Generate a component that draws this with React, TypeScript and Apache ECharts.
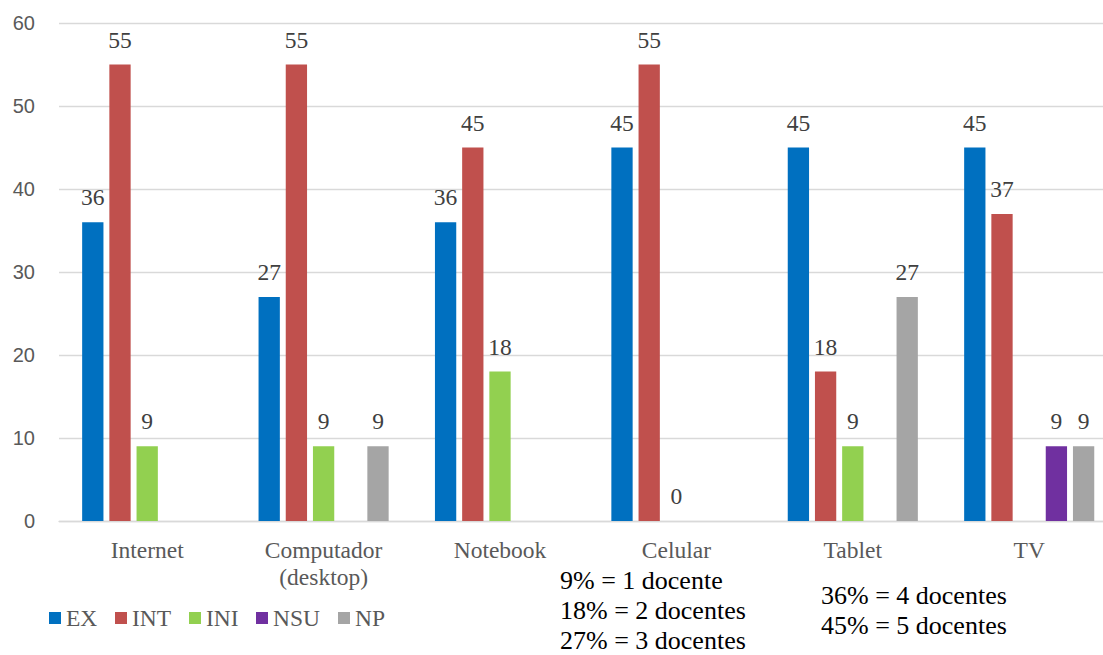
import React, { useEffect, useRef } from "react";
import * as echarts from "echarts";

// Device categories (x axis)
const categories = ["Internet", "Computador\n(desktop)", "Notebook", "Celular", "Tablet", "TV"];

// Percentages per level; null = no bar for that device
const seriesNames = ["EX", "INT", "INI", "NSU", "NP"];
const exValues = [36, 27, 36, 45, 45, 45];
const intValues = [55, 55, 45, 55, 18, 37];
const iniValues = [9, 9, 18, 0, 9, null];
const nsuValues = [null, null, null, null, null, 9];
const npValues = [null, 9, null, null, 27, 9];
const seriesColors = ["#0070C0", "#C0504D", "#92D050", "#7030A0", "#A5A5A5"];

// Y axis range
const yMin = 0;
const yMax = 60;
const yStep = 10;

// Conversion notes shown under the chart
const notesLeft = ["9% = 1 docente", "18% = 2 docentes", "27% = 3 docentes"];
const notesRight = ["36% = 4 docentes", "45% = 5 docentes"];

// Horizontal start of each legend swatch
const legendX = [49, 115, 189, 256, 338];

const SERIF = "Liberation Serif";

export default function App() {
  const ref = useRef<HTMLDivElement | null>(null);

  useEffect(() => {
    if (!ref.current) return;
    const chart = echarts.init(ref.current, null, { renderer: "svg" });
    const allValues = [exValues, intValues, iniValues, nsuValues, npValues];

    const series = seriesNames.map((name, i) => ({
      name,
      type: "bar",
      data: allValues[i],
      barWidth: 21.3,
      barGap: "27.7%",
      itemStyle: { color: seriesColors[i] },
      label: {
        show: true,
        position: "top",
        distance: 13,
        formatter: (p: any) => (p.value === null || p.value === undefined ? "" : "{v|" + p.value + "}"),
        rich: { v: { fontFamily: SERIF, fontSize: 23.5, lineHeight: 24, color: "#404040" } },
      },
    }));

    const note = (t: string, left: number, top: number) => ({
      type: "text",
      left,
      top,
      style: {
        text: "{n|" + t + "}",
        rich: { n: { fontFamily: SERIF, fontSize: 26, lineHeight: 30 } },
      },
    });

    // Legend: square swatch plus series name
    const legend = seriesNames.flatMap((name, i) => [
      {
        type: "rect",
        shape: { x: legendX[i], y: 612, width: 12, height: 12 },
        style: { fill: seriesColors[i] },
      },
      {
        type: "text",
        left: legendX[i] + 17,
        top: 605.5,
        style: {
          text: "{l|" + name + "}",
          rich: { l: { fontFamily: SERIF, fontSize: 23.5, lineHeight: 24, fill: "#595959" } },
        },
      },
    ]);

    const graphic = [
      ...notesLeft.map((t, i) => note(t, 560, 567 + i * 30)),
      ...notesRight.map((t, i) => note(t, 821, 582 + i * 30)),
      ...legend,
    ];

    chart.setOption({
      animation: false,
      grid: { left: 59, right: 0.6, top: 23, bottom: 134, containLabel: false },
      xAxis: {
        type: "category",
        data: categories,
        axisTick: { show: false },
        axisLine: { lineStyle: { color: "#D9D9D9", width: 1.3 } },
        axisLabel: {
          interval: 0,
          margin: 15,
          fontFamily: SERIF,
          fontSize: 23.5,
          lineHeight: 27,
          color: "#595959",
        },
      },
      yAxis: {
        type: "value",
        min: yMin,
        max: yMax,
        interval: yStep,
        axisLine: { show: false },
        axisTick: { show: false },
        splitLine: { lineStyle: { color: "#D9D9D9", width: 1.3 } },
        axisLabel: {
          margin: 24,
          fontSize: 20,
          color: "#595959",
        },
      },
      series,
      graphic,
    });

    return () => chart.dispose();
  }, []);

  return (
    <div style={{ position: "absolute", left: 0, top: 0, width: 1103, height: 655, overflow: "hidden", background: "#ffffff" }}>
      <div ref={ref} style={{ width: 1118, height: 655 }} />
    </div>
  );
}
